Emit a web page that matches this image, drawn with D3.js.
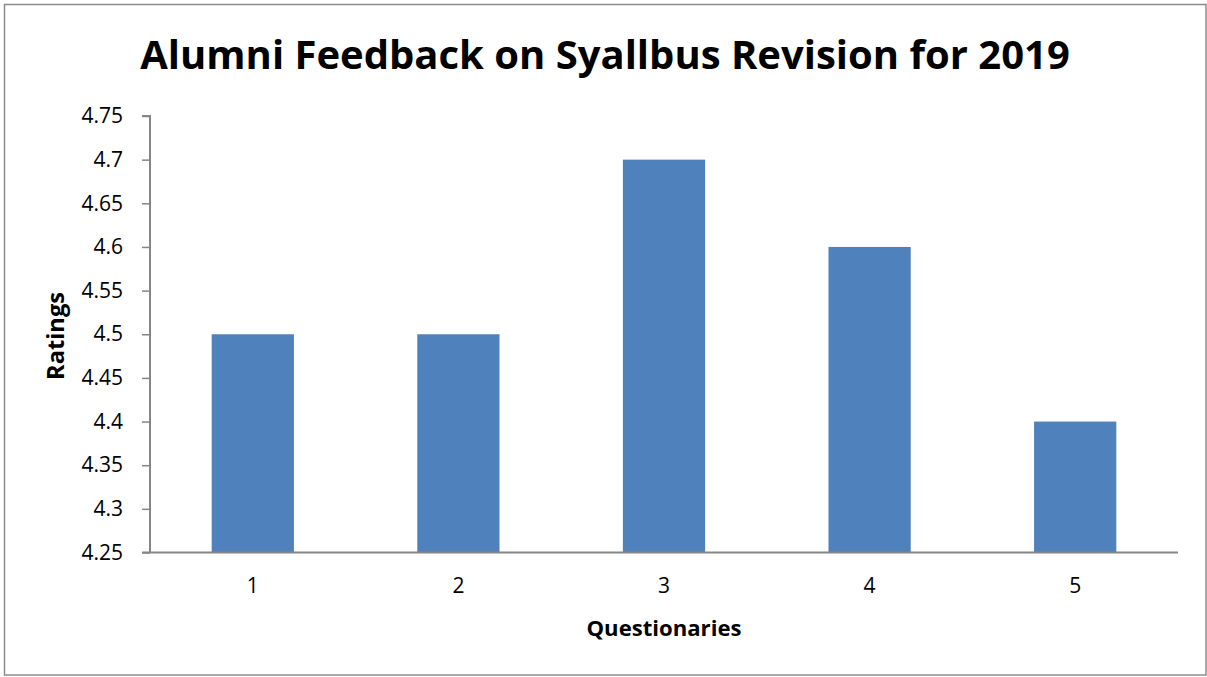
<!DOCTYPE html>
<html>
<head>
<meta charset="utf-8">
<script src="https://cdn.jsdelivr.net/npm/d3@7"></script>
<style>
  html, body { margin: 0; padding: 0; background: #fff; }
  svg { display: block; }
  text { font-family: "Open Sans", "Liberation Sans", sans-serif; fill: #000; }
</style>
</head>
<body>
<svg id="chart" width="1207" height="677"></svg>
<script>
const categories = ["1", "2", "3", "4", "5"];
const ratings = [4.5, 4.5, 4.7, 4.6, 4.4];
const yTicks = [4.25, 4.3, 4.35, 4.4, 4.45, 4.5, 4.55, 4.6, 4.65, 4.7, 4.75];
const titleText = "Alumni Feedback on Syallbus Revision for 2019";
const xTitle = "Questionaries";
const yTitle = "Ratings";

(function () {
const svg = d3.select("#chart");

// outer border
svg.append("rect").attr("x", 4.5).attr("y", 4.5).attr("width", 1201.5).attr("height", 670.5)
  .attr("fill", "none").attr("stroke", "#8c8c8c").attr("stroke-width", 1.5);

const pL = 150, pR = 1178, pT = 116, pB = 552.5;

const x = d3.scaleBand().domain(categories).range([pL, pR]).paddingInner(0.6).paddingOuter(0.3);
const y = d3.scaleLinear().domain([4.25, 4.75]).range([pB, pT]);

// bars
svg.append("g").selectAll("rect").data(ratings).join("rect")
  .attr("x", (d, i) => x(categories[i]))
  .attr("y", d => y(d))
  .attr("width", x.bandwidth())
  .attr("height", d => y(4.25) - y(d))
  .attr("fill", "#4F81BD");

// y axis
const yAxis = d3.axisLeft(y).tickValues(yTicks).tickSize(8).tickPadding(19)
  .tickFormat(d => String(+d.toFixed(2)));
const gy = svg.append("g").attr("transform", `translate(${pL},0)`).call(yAxis);
gy.select(".domain").attr("stroke", "#868686").attr("stroke-width", 2).attr("d", `M-8,${pT}H0V${pB}`);
gy.selectAll(".tick line").attr("stroke", "#868686").attr("stroke-width", 1.5);
gy.selectAll(".tick text").style("font-size", "21px").attr("fill", "#000")
  .style("font-family", '"Open Sans", sans-serif');

// x axis
const xAxis = d3.axisBottom(x).tickSize(0).tickPadding(26);
const gx = svg.append("g").attr("transform", `translate(0,${pB})`).call(xAxis);
gx.select(".domain").attr("stroke", "#868686").attr("stroke-width", 2).attr("d", `M${pL - 8},0H${pR}`);
gx.selectAll(".tick text").style("font-size", "21px").attr("fill", "#000")
  .style("font-family", '"Open Sans", sans-serif');

// title
const t = svg.append("text").attr("x", 605).attr("y", 69).attr("text-anchor", "middle")
  .style("font-size", "38px").style("font-weight", "bold").text(titleText);
const tw = t.node().getComputedTextLength();
t.style("font-size", (38 * 930 / tw) + "px");

// x title
const xt = svg.append("text").attr("x", (pL + pR) / 2).attr("y", 636).attr("text-anchor", "middle")
  .style("font-size", "20px").style("font-weight", "bold").text(xTitle);
const xw = xt.node().getComputedTextLength();
xt.style("font-size", (20 * 155 / xw) + "px");

// y title
const yt = svg.append("text").attr("transform", "translate(64,336) rotate(-90)").attr("text-anchor", "middle")
  .style("font-size", "20px").style("font-weight", "bold").text(yTitle);
const yw = yt.node().getComputedTextLength();
yt.style("font-size", (20 * 88 / yw) + "px");
})();
</script>
</body>
</html>
